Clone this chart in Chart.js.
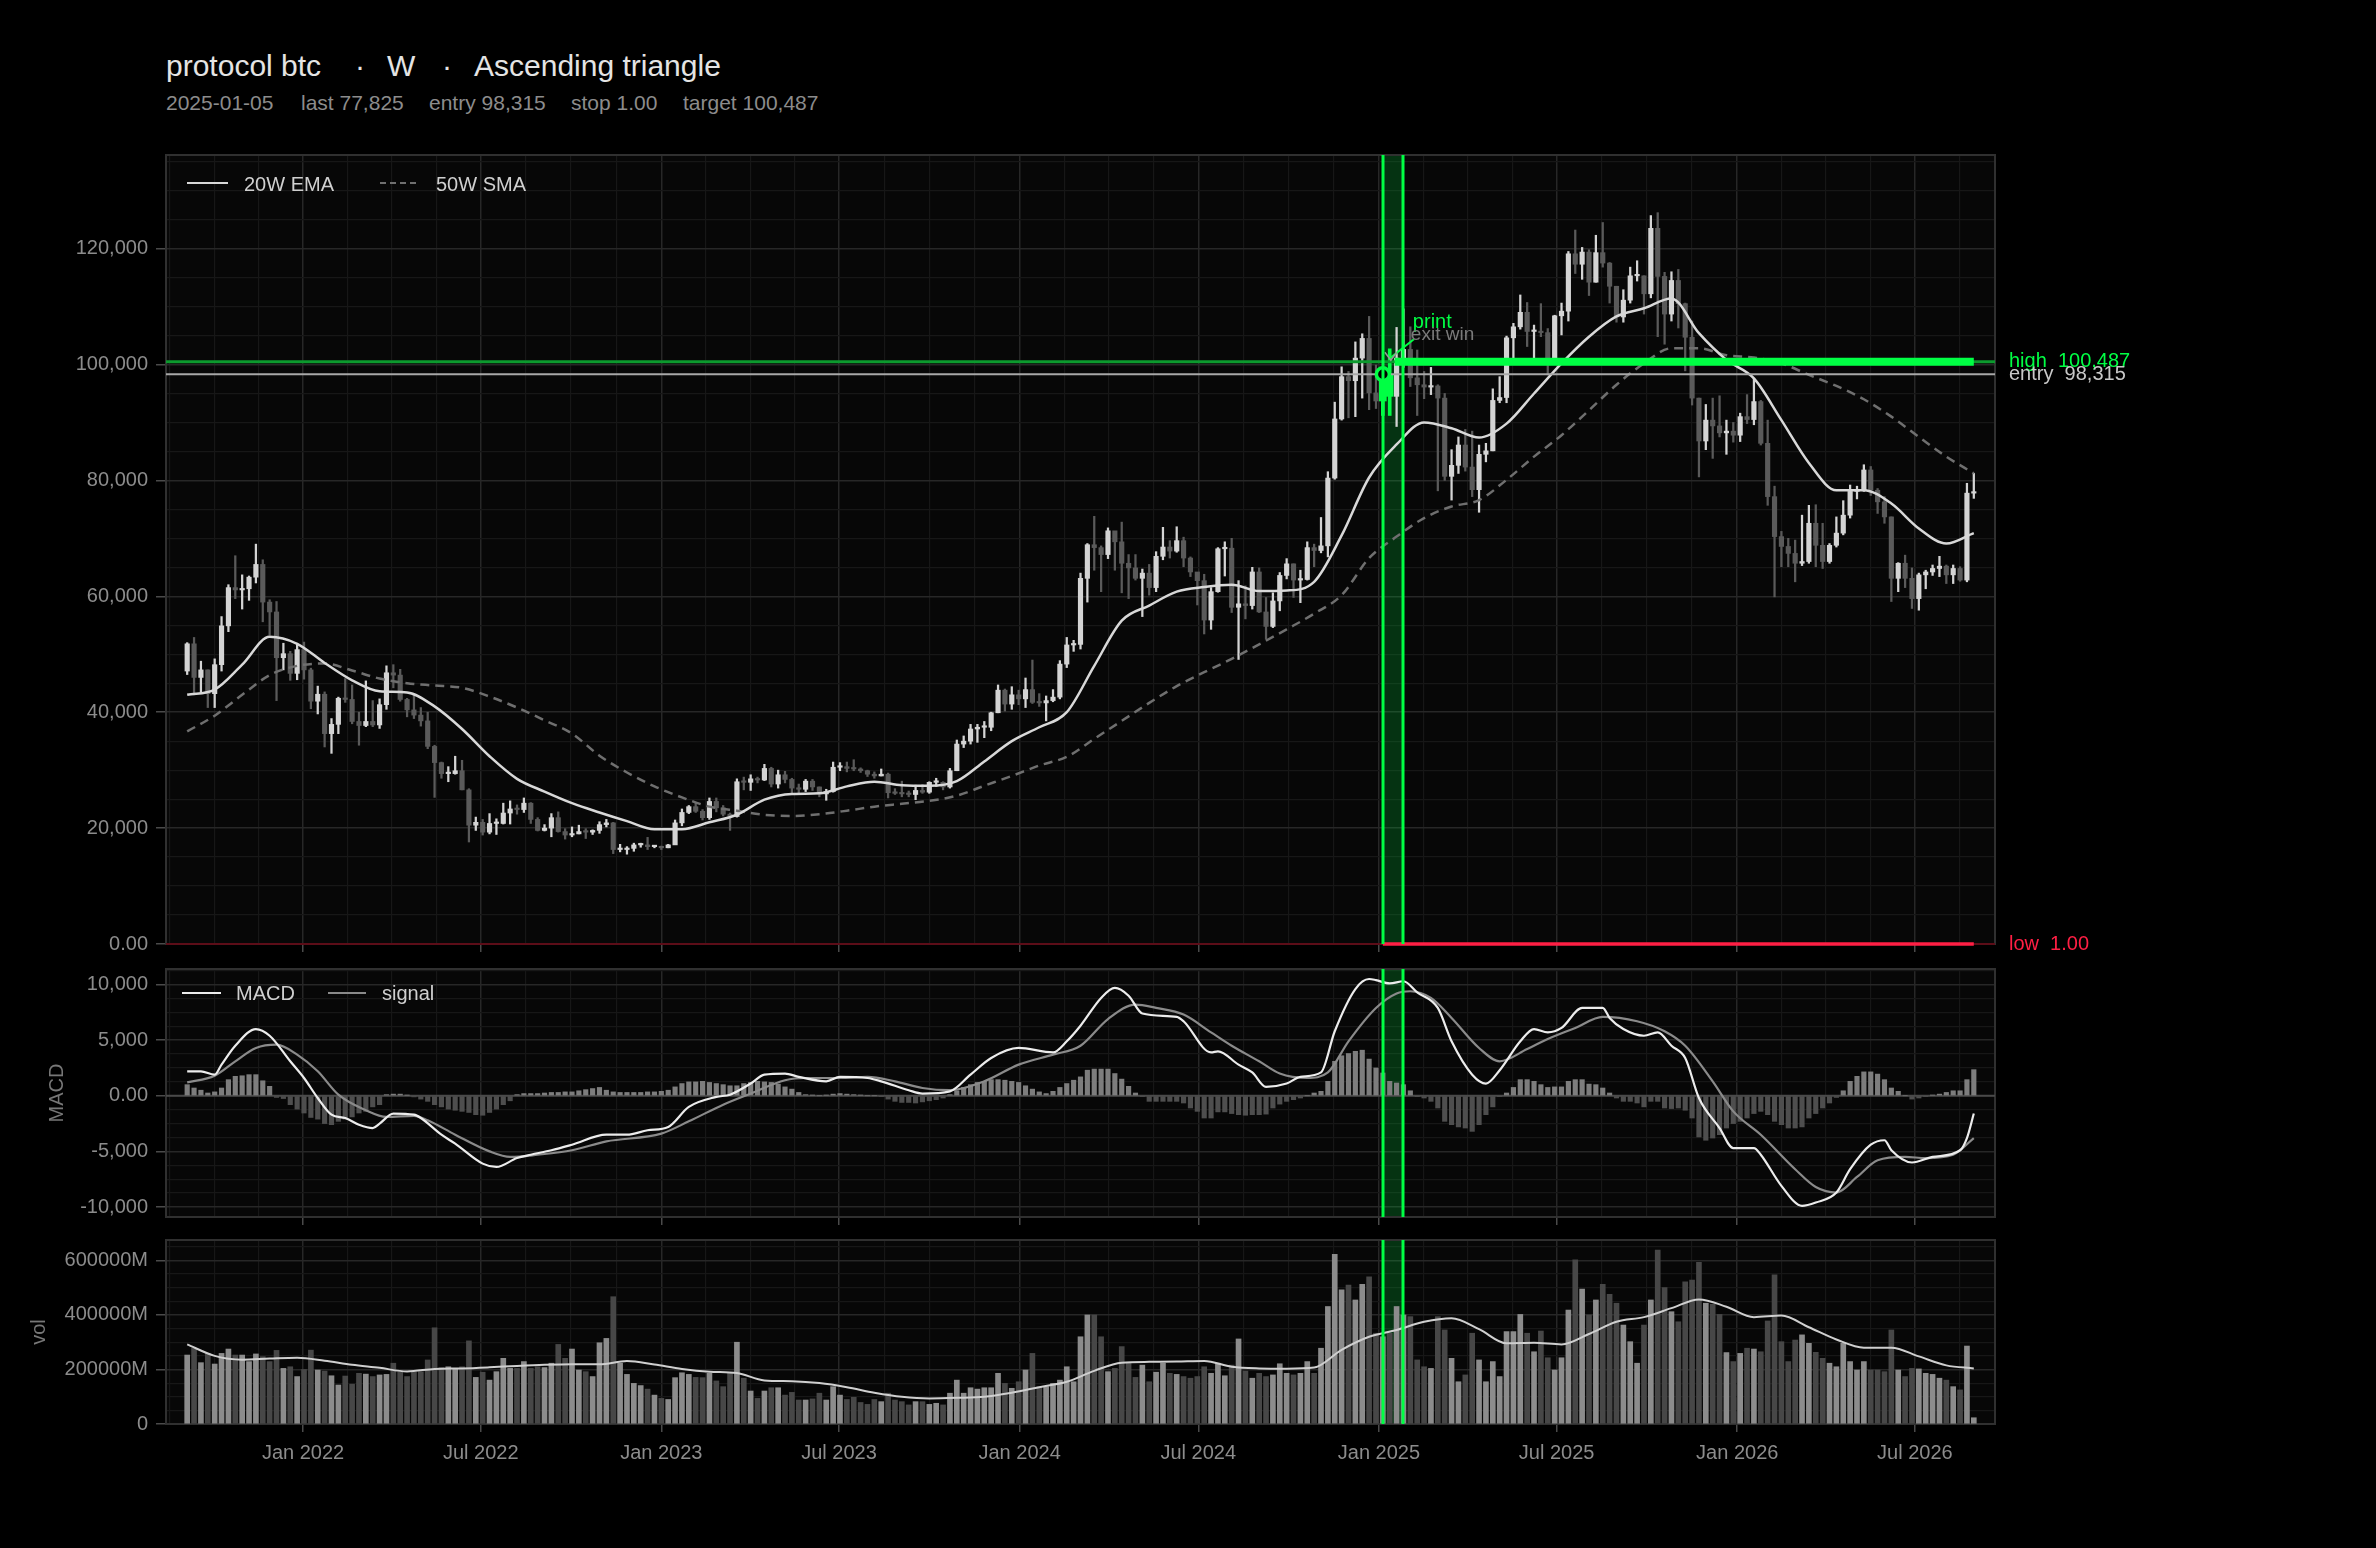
<!DOCTYPE html>
<html>
<head>
<meta charset="utf-8">
<title>protocol btc · W · Ascending triangle</title>
<script src="https://cdn.jsdelivr.net/npm/chart.js@4.4.1/dist/chart.umd.min.js"></script>
<style>
  html, body { margin: 0; padding: 0; background: #000; }
  body { width: 2376px; height: 1548px; position: relative; overflow: hidden;
         font-family: "Liberation Sans", Arial, Helvetica, sans-serif; }
  .t { position: absolute; white-space: pre; }
  .title { top: 51px; font-size: 30px; line-height: 30px; color: #e4e4e4; }
  .sub { top: 92px; font-size: 21px; line-height: 21px; color: #8c8c8c; }
  .lg { font-size: 20px; line-height: 20px; color: #cfcfcf; }
  .sw { position: absolute; height: 0; }
  canvas { position: absolute; left: 0; }
</style>
</head>
<body>
<div class="t title" style="left:166px">protocol btc</div>
<div class="t title" style="left:355px">·</div>
<div class="t title" style="left:387px">W</div>
<div class="t title" style="left:442px">·</div>
<div class="t title" style="left:474px">Ascending triangle</div>

<div class="t sub" style="left:166px">2025-01-05</div>
<div class="t sub" style="left:301px">last 77,825</div>
<div class="t sub" style="left:429px">entry 98,315</div>
<div class="t sub" style="left:571px">stop 1.00</div>
<div class="t sub" style="left:683px">target 100,487</div>

<canvas id="main" width="2376" height="850" style="top:120px"></canvas>
<canvas id="macd" width="2376" height="298" style="top:945px"></canvas>
<canvas id="vol" width="2376" height="332" style="top:1216px"></canvas>

<!-- legends -->
<div class="sw" style="left:187px;top:182px;width:41px;border-top:2.5px solid #d8d8d8"></div>
<div class="t lg" style="left:244px;top:174px">20W EMA</div>
<div class="sw" style="left:380px;top:182px;width:36px;border-top:2.5px dashed #6f6f6f"></div>
<div class="t lg" style="left:436px;top:174px">50W SMA</div>

<div class="sw" style="left:182px;top:992px;width:39px;border-top:2.5px solid #ececec"></div>
<div class="t lg" style="left:236px;top:983px">MACD</div>
<div class="sw" style="left:328px;top:992px;width:38px;border-top:2.5px solid #8a8a8a"></div>
<div class="t lg" style="left:382px;top:983px">signal</div>

<script>
// weekly candles, labelled by the Sunday that closes the week; prices in $k
const firstWeek = '2021-09-05';

const open = [
  47.1, 51.8, 46.0, 47.3, 43.2, 48.2, 54.9, 61.5, 61.1, 61.3,
  63.3, 65.5, 59.0, 57.3, 49.4, 50.1, 46.7, 50.8, 47.3, 41.9,
  43.1, 36.3, 37.9, 42.4, 42.2, 38.4, 37.7, 38.4, 37.8, 41.3,
  46.8, 46.4, 42.2, 40.4, 39.5, 38.5, 34.1, 31.3, 29.4, 29.4,
  29.9, 26.6, 20.5, 21.0, 19.3, 20.8, 20.8, 22.6, 23.3, 23.2,
  24.3, 21.5, 19.6, 20.0, 21.8, 19.4, 18.8, 19.0, 19.4, 19.3,
  19.6, 20.6, 20.9, 16.3, 16.3, 16.5, 17.1, 17.1, 16.8, 16.8,
  16.6, 17.1, 20.9, 22.7, 23.7, 22.9, 21.8, 24.6, 23.5, 22.4,
  22.0, 28.0, 27.9, 28.5, 28.3, 30.3, 27.6, 29.2, 28.4, 26.9,
  26.7, 28.1, 27.1, 25.9, 26.3, 30.5, 30.6, 30.3, 30.2, 29.9,
  29.3, 29.0, 29.3, 26.1, 26.0, 25.9, 25.8, 26.5, 26.2, 27.9,
  27.9, 27.1, 29.9, 34.5, 35.0, 37.1, 37.4, 37.4, 39.9, 43.8,
  41.4, 43.0, 42.3, 43.9, 41.7, 41.6, 42.0, 42.6, 48.3, 51.6,
  51.7, 63.1, 68.9, 68.4, 67.2, 71.3, 69.4, 65.7, 64.9, 63.1,
  64.0, 61.5, 66.9, 68.5, 67.8, 69.6, 66.6, 64.2, 62.7, 55.9,
  60.8, 68.2, 68.3, 58.1, 58.7, 58.4, 64.2, 57.3, 54.8, 59.2,
  63.6, 65.6, 62.8, 62.9, 68.4, 67.9, 68.7, 80.4, 90.6, 97.9,
  97.2, 101.1, 104.5, 95.1, 93.7, 98.3, 94.5, 101.1, 102.6, 97.7,
  96.5, 96.1, 96.3, 94.2, 80.7, 82.6, 86.1, 82.3, 78.4, 84.5,
  85.1, 93.8, 94.3, 104.6, 106.5, 109.0, 105.7, 105.7, 105.5, 101.0,
  108.4, 109.2, 119.1, 117.3, 119.4, 114.2, 119.3, 117.5, 113.5, 108.2,
  111.1, 115.3, 115.3, 112.2, 123.5, 115.2, 108.7, 114.5, 110.5, 104.7,
  94.2, 86.8, 90.4, 89.4, 88.2, 88.5, 87.8, 91.0, 90.5, 93.6,
  86.4, 77.2, 70.3, 68.6, 67.4, 65.7, 66.0, 72.6, 68.8, 66.0,
  68.8, 70.9, 74.0, 78.1, 78.3, 81.8, 78.3, 76.3, 73.7, 63.1,
  65.7, 63.1, 59.6, 63.7, 64.2, 64.8, 65.2, 63.7, 64.8, 62.8,
  77.8
];
const high = [
  52.0, 52.9, 48.8, 47.3, 49.2, 56.5, 62.0, 67.0, 63.7, 63.5,
  69.0, 66.3, 59.4, 59.1, 51.9, 50.5, 51.9, 52.1, 47.6, 44.5,
  43.5, 38.9, 42.6, 45.8, 44.7, 40.0, 45.4, 42.0, 42.3, 48.0,
  48.2, 47.4, 42.4, 42.9, 40.8, 40.0, 34.3, 31.4, 30.6, 32.4,
  31.7, 26.8, 21.9, 21.5, 22.5, 21.6, 24.3, 24.7, 24.0, 25.2,
  24.4, 21.8, 20.6, 22.5, 22.8, 19.9, 20.2, 20.5, 19.9, 19.7,
  21.1, 21.5, 21.0, 17.2, 16.8, 17.4, 17.4, 18.4, 17.0, 16.9,
  17.2, 21.4, 23.3, 23.9, 24.3, 23.2, 25.2, 25.2, 23.9, 22.6,
  28.5, 28.8, 29.2, 28.8, 31.0, 30.5, 30.0, 29.8, 28.6, 27.6,
  28.4, 28.4, 27.1, 26.7, 31.4, 31.3, 31.4, 31.8, 30.4, 30.0,
  29.7, 30.2, 29.5, 26.8, 28.1, 26.4, 27.4, 27.5, 28.0, 28.6,
  28.0, 30.3, 35.2, 35.9, 37.9, 37.9, 38.4, 40.0, 44.7, 44.0,
  44.4, 43.8, 45.9, 49.0, 43.2, 42.8, 43.9, 48.9, 52.9, 52.4,
  64.0, 69.1, 73.8, 68.7, 71.8, 71.2, 72.8, 67.2, 67.2, 64.7,
  65.5, 67.7, 71.9, 69.6, 72.0, 70.2, 66.8, 64.0, 63.8, 61.5,
  68.4, 69.4, 70.0, 62.7, 61.8, 65.0, 64.9, 59.8, 60.6, 64.1,
  66.5, 65.6, 64.5, 69.4, 69.0, 73.6, 81.5, 93.5, 99.6, 98.8,
  103.9, 105.3, 108.3, 99.9, 98.9, 102.7, 106.4, 109.6, 106.5, 102.5,
  98.8, 99.5, 96.5, 95.0, 85.3, 87.5, 88.8, 88.5, 86.1, 86.4,
  95.8, 97.9, 104.9, 107.1, 112.0, 110.7, 106.8, 110.5, 106.2, 108.5,
  110.6, 119.5, 123.2, 120.2, 119.8, 122.3, 124.5, 117.6, 113.5, 112.9,
  116.8, 117.9, 115.3, 125.7, 126.2, 115.9, 116.0, 116.4, 110.6, 107.5,
  94.2, 93.1, 94.2, 94.6, 90.4, 90.0, 91.6, 94.8, 97.6, 93.8,
  90.4, 79.0, 71.2, 70.0, 69.7, 74.0, 75.7, 75.8, 72.6, 69.1,
  73.7, 76.5, 79.2, 79.0, 82.7, 82.4, 78.6, 77.2, 73.7, 65.8,
  67.1, 64.9, 64.0, 64.5, 65.4, 66.9, 65.4, 65.4, 65.1, 79.5,
  81.2
];
const low = [
  46.5, 43.0, 43.4, 40.8, 40.8, 47.1, 53.9, 59.6, 57.8, 59.3,
  62.3, 55.6, 53.3, 42.0, 47.3, 45.5, 45.6, 45.7, 40.6, 39.7,
  34.0, 32.9, 36.3, 41.7, 38.0, 34.3, 37.5, 37.5, 37.2, 40.5,
  44.2, 41.9, 39.2, 38.9, 37.6, 33.7, 25.3, 28.6, 28.0, 29.3,
  26.6, 17.6, 19.6, 18.8, 19.0, 18.9, 20.7, 20.7, 22.4, 22.7,
  20.8, 19.5, 19.5, 18.5, 19.3, 18.1, 18.5, 19.0, 18.2, 18.9,
  19.1, 20.2, 15.6, 15.9, 15.5, 16.0, 16.7, 16.3, 16.6, 16.3,
  16.6, 17.2, 20.4, 22.5, 22.7, 21.4, 21.5, 22.8, 22.1, 19.6,
  21.9, 26.6, 26.5, 27.8, 28.2, 27.1, 26.9, 27.8, 25.8, 26.1,
  26.3, 26.5, 25.4, 24.8, 26.2, 29.9, 29.7, 29.9, 29.6, 28.9,
  28.6, 29.0, 25.2, 25.8, 25.4, 25.4, 24.9, 26.0, 26.0, 27.2,
  26.6, 26.9, 29.9, 33.9, 34.5, 34.8, 35.6, 36.8, 39.9, 40.2,
  40.5, 41.3, 40.8, 41.5, 41.0, 38.5, 41.8, 42.3, 47.7, 50.5,
  50.9, 59.0, 64.5, 60.8, 66.5, 64.5, 60.6, 59.6, 62.8, 56.5,
  60.2, 60.8, 66.3, 66.6, 67.6, 65.1, 63.4, 58.5, 53.5, 54.3,
  60.7, 63.5, 57.2, 49.1, 56.1, 57.8, 57.2, 52.6, 54.6, 57.5,
  63.0, 59.8, 58.9, 62.8, 65.1, 67.5, 66.8, 80.2, 90.4, 90.8,
  91.0, 94.2, 92.2, 92.4, 91.2, 91.2, 89.3, 99.5, 96.2, 91.2,
  94.1, 94.8, 78.2, 80.0, 76.6, 81.2, 81.6, 77.2, 74.5, 83.2,
  85.1, 93.4, 93.4, 100.7, 106.1, 103.1, 100.4, 104.8, 98.2, 100.3,
  105.1, 107.5, 115.7, 114.7, 111.9, 114.2, 116.8, 110.6, 107.3, 107.3,
  110.6, 114.4, 108.7, 111.5, 104.8, 103.5, 107.5, 106.3, 98.9, 93.0,
  80.6, 85.3, 83.8, 87.5, 84.5, 86.6, 86.7, 89.8, 89.6, 86.1,
  75.7, 59.9, 65.1, 65.1, 62.5, 65.3, 65.7, 65.1, 64.8, 65.7,
  68.5, 70.6, 73.5, 76.8, 78.1, 77.4, 74.3, 72.6, 59.1, 60.8,
  61.5, 57.9, 57.6, 61.3, 63.6, 63.4, 62.2, 62.2, 62.6, 62.5,
  76.9
];
const close = [
  51.8, 46.0, 47.3, 43.2, 48.2, 54.9, 61.5, 61.1, 61.3, 63.3,
  65.5, 59.0, 57.3, 49.4, 50.1, 46.7, 50.8, 47.3, 41.9, 43.1,
  36.3, 37.9, 42.4, 42.2, 38.4, 37.7, 38.4, 37.8, 41.3, 46.8,
  46.4, 42.2, 40.4, 39.5, 38.5, 34.1, 31.3, 29.4, 29.4, 29.9,
  26.6, 20.5, 21.0, 19.3, 20.8, 20.8, 22.6, 23.3, 23.2, 24.3,
  21.5, 19.6, 20.0, 21.8, 19.4, 18.8, 19.0, 19.4, 19.3, 19.6,
  20.6, 20.9, 16.3, 16.3, 16.5, 17.1, 17.1, 16.8, 16.8, 16.6,
  17.1, 20.9, 22.7, 23.7, 22.9, 21.8, 24.6, 23.5, 22.4, 22.0,
  28.0, 27.9, 28.5, 28.3, 30.3, 27.6, 29.2, 28.4, 26.9, 26.7,
  28.1, 27.1, 25.9, 26.3, 30.5, 30.6, 30.3, 30.2, 29.9, 29.3,
  29.0, 29.3, 26.1, 26.0, 25.9, 25.8, 26.5, 26.2, 27.9, 27.9,
  27.1, 29.9, 34.5, 35.0, 37.1, 37.4, 37.4, 39.9, 43.8, 41.4,
  43.0, 42.3, 43.9, 41.7, 41.6, 42.0, 42.6, 48.3, 51.6, 51.7,
  63.1, 68.9, 68.4, 67.2, 71.3, 69.4, 65.7, 64.9, 63.1, 64.0,
  61.5, 66.9, 68.5, 67.8, 69.6, 66.6, 64.2, 62.7, 55.9, 60.8,
  68.2, 68.3, 58.1, 58.7, 58.4, 64.2, 57.3, 54.8, 59.2, 63.6,
  65.6, 62.8, 62.9, 68.4, 67.9, 68.7, 80.4, 90.6, 97.9, 97.2,
  101.1, 104.5, 95.1, 93.7, 98.3, 94.5, 101.1, 102.6, 97.7, 96.5,
  96.1, 96.3, 94.2, 80.7, 82.6, 86.1, 82.3, 78.4, 84.5, 85.1,
  93.8, 94.3, 104.6, 106.5, 109.0, 105.7, 105.7, 105.5, 101.0, 108.4,
  109.2, 119.1, 117.3, 119.4, 114.2, 119.3, 117.5, 113.5, 108.2, 111.1,
  115.3, 115.3, 112.2, 123.5, 115.2, 108.7, 114.5, 110.5, 104.7, 94.2,
  86.8, 90.4, 89.4, 88.2, 88.5, 87.8, 91.0, 90.5, 93.6, 86.4,
  77.2, 70.3, 68.6, 67.4, 65.7, 66.0, 72.6, 68.8, 66.0, 68.8,
  70.9, 74.0, 78.1, 78.3, 81.8, 78.3, 76.3, 73.7, 63.1, 65.7,
  63.1, 59.6, 63.7, 64.2, 64.8, 65.2, 63.7, 64.8, 62.8, 77.8,
  77.825
];

// weekly volume in $bn (axis shows it as millions)
const volume = [
  253, 278, 225, 259, 220, 259, 275, 253, 253, 229,
  257, 247, 229, 270, 204, 210, 174, 200, 271, 198,
  194, 177, 143, 176, 146, 186, 183, 174, 180, 182,
  223, 190, 174, 190, 192, 235, 353, 207, 210, 204,
  210, 305, 171, 190, 161, 192, 241, 204, 204, 229,
  204, 210, 207, 223, 292, 241, 275, 198, 192, 174,
  298, 314, 467, 223, 182, 149, 141, 128, 106, 94,
  90, 170, 188, 182, 171, 170, 186, 158, 137, 186,
  300, 168, 121, 94, 121, 133, 133, 106, 116, 88,
  88, 92, 113, 88, 137, 106, 90, 98, 79, 72,
  90, 82, 113, 88, 82, 70, 82, 82, 72, 76,
  70, 113, 161, 113, 133, 128, 133, 133, 186, 149,
  131, 155, 198, 259, 137, 137, 149, 161, 210, 155,
  320, 400, 400, 320, 192, 204, 284, 223, 171, 216,
  155, 190, 223, 186, 182, 174, 168, 174, 210, 186,
  223, 177, 216, 312, 194, 168, 186, 174, 180, 221,
  186, 180, 186, 229, 186, 278, 431, 622, 492, 510,
  455, 512, 540, 333, 320, 333, 431, 400, 394, 235,
  210, 204, 394, 345, 241, 155, 180, 333, 235, 155,
  229, 174, 339, 339, 402, 333, 265, 341, 243, 198,
  243, 418, 602, 495, 400, 455, 512, 476, 443, 363,
  302, 223, 363, 455, 638, 500, 412, 375, 522, 528,
  593, 443, 439, 402, 262, 229, 259, 278, 275, 265,
  378, 547, 302, 229, 308, 327, 296, 263, 241, 223,
  210, 296, 229, 198, 229, 198, 198, 192, 345, 198,
  174, 204, 202, 186, 182, 168, 161, 137, 125, 286,
  23
];

// MACD histogram per week, in $k
const macdHist = [
  1.0, 0.7, 0.5, 0.25, 0.35, 0.7, 1.45, 1.75, 1.8, 1.9,
  1.9, 1.35, 0.85, -0.15, -0.25, -0.8, -1.2, -1.55, -1.95, -2.1,
  -2.5, -2.6, -2.3, -2.1, -1.9, -1.55, -1.4, -1.0, -0.8, 0.1,
  0.15, 0.15, 0.05, -0.1, -0.3, -0.5, -0.8, -1.0, -1.2, -1.3,
  -1.4, -1.5, -1.7, -1.75, -1.5, -1.2, -0.8, -0.45, 0.1, 0.2,
  0.2, 0.2, 0.25, 0.3, 0.3, 0.35, 0.35, 0.45, 0.55, 0.65,
  0.75, 0.5, 0.35, 0.3, 0.3, 0.3, 0.3, 0.35, 0.35, 0.4,
  0.5, 0.8, 1.1, 1.25, 1.25, 1.3, 1.2, 1.1, 1.0, 0.9,
  0.9, 1.1, 1.2, 1.3, 1.25, 1.2, 1.05, 0.8, 0.6, 0.3,
  0.1, 0.05, 0.0, 0.05, 0.15, 0.2, 0.15, 0.1, 0.05, 0.0,
  0.0, -0.05, -0.3, -0.5, -0.6, -0.6, -0.65, -0.55, -0.45, -0.35,
  -0.2, 0.1, 0.45, 0.75, 1.0, 1.2, 1.3, 1.45, 1.45, 1.4,
  1.3, 1.2, 0.9, 0.6, 0.35, 0.2, 0.4, 0.75, 1.1, 1.4,
  1.7, 2.3, 2.4, 2.4, 2.4, 2.0, 1.5, 0.85, 0.25, -0.05,
  -0.5, -0.5, -0.5, -0.5, -0.5, -0.65, -1.1, -1.4, -2.0, -2.0,
  -1.45, -1.45, -1.6, -1.7, -1.75, -1.7, -1.7, -1.65, -1.1, -0.75,
  -0.5, -0.35, -0.2, 0.0, 0.25, 0.4, 1.3, 3.1, 3.6, 3.8,
  4.0, 4.1, 3.3, 2.5, 2.05, 1.3, 1.15, 1.0, 0.45, -0.05,
  -0.2, -0.5, -1.1, -2.3, -2.6, -2.8, -2.9, -3.2, -2.6, -1.7,
  -1.0, -0.05, 0.25, 0.75, 1.45, 1.45, 1.3, 1.0, 0.75, 0.8,
  0.8, 1.3, 1.45, 1.45, 1.05, 1.0, 0.7, 0.25, -0.2, -0.5,
  -0.5, -0.65, -1.0, -0.5, -0.5, -1.1, -1.15, -1.1, -1.3, -2.0,
  -3.7, -4.0, -3.8, -3.5, -2.9, -2.5, -2.3, -2.0, -1.6, -1.4,
  -1.7, -2.3, -2.6, -2.9, -2.9, -2.8, -2.0, -1.6, -1.1, -0.65,
  -0.15, 0.45, 1.3, 1.75, 2.15, 2.15, 1.95, 1.45, 0.7, 0.4,
  0.0, -0.3, -0.2, -0.05, 0.05, 0.15, 0.3, 0.45, 0.45, 1.45,
  2.35
];

// MACD and signal lines read at these week numbers, in $k
const macdWeek = [0, 2, 4, 5, 7, 10, 12, 15, 17, 19, 21, 23, 25, 27, 28, 30, 33, 34, 37, 39,
  43, 45, 48, 50, 53, 56, 61, 64, 67, 70, 73, 77, 79, 82, 84, 87, 89, 93, 95, 99,
  101, 105, 107, 111, 114, 117, 121, 126, 128, 130, 133, 135, 137, 139, 144, 145, 149, 150, 153, 155,
  157, 160, 162, 165, 167, 170, 172, 173, 175, 177, 179, 182, 184, 187, 189, 191, 194, 196, 198, 200,
  203, 206, 207, 209, 212, 214, 216, 218, 220, 223, 225, 228, 229, 232, 235, 237, 240, 242, 245, 247,
  248, 251, 254, 258, 259, 260];
const macdLine = [2.2, 2.2, 1.9, 2.8, 4.5, 6.0, 5.4, 3.1, 1.6, -0.2, -1.7, -2.0, -2.6, -2.9, -2.5, -1.6, -1.7, -2.0, -3.5, -4.3,
  -6.1, -6.4, -5.6, -5.3, -4.9, -4.4, -3.5, -3.5, -3.1, -2.8, -1.0, -0.1, 0.1, 1.1, 1.9, 2.0, 1.7, 1.3, 1.7, 1.6,
  1.3, 0.5, 0.2, 0.4, 1.9, 3.4, 4.3, 3.9, 4.9, 6.3, 8.8, 9.7, 9.0, 7.4, 7.1, 6.7, 3.9, 4.0, 2.8, 2.1,
  0.8, 1.1, 1.7, 2.1, 5.8, 9.6, 10.5, 10.4, 10.1, 10.3, 9.3, 7.9, 4.9, 1.9, 1.1, 2.3, 4.9, 6.0, 5.7, 6.1,
  7.9, 7.9, 7.0, 6.0, 5.4, 5.7, 4.5, 3.4, -0.2, -2.9, -4.7, -4.7, -5.3, -8.1, -9.9, -9.6, -8.7, -6.6, -4.4, -4.0,
  -4.9, -6.0, -5.5, -4.9, -3.8, -1.6];
const signalWeek = [0, 4, 7, 10, 13, 16, 19, 22, 26, 29, 33, 35, 39, 44, 47, 51, 56, 61, 69, 73,
  78, 82, 87, 90, 95, 99, 103, 107, 111, 116, 121, 126, 130, 134, 138, 141, 145, 149, 152, 156,
  159, 163, 166, 169, 173, 176, 178, 181, 184, 188, 191, 195, 198, 202, 206, 211, 215, 218, 222, 225,
  229, 234, 237, 240, 243, 246, 250, 253, 257, 260];
const signalLine = [1.2, 1.8, 3.1, 4.3, 4.6, 3.7, 2.2, 0.1, -1.3, -1.9, -1.8, -2.2, -3.5, -5.0, -5.5, -5.3, -4.9, -4.1, -3.4, -2.3,
  -0.8, 0.2, 1.4, 1.6, 1.6, 1.7, 1.3, 0.7, 0.5, 1.3, 2.8, 3.7, 4.5, 6.9, 8.2, 7.9, 7.3, 5.7, 4.5, 3.1,
  2.0, 1.6, 2.1, 4.9, 7.9, 9.2, 9.4, 8.8, 7.0, 4.3, 3.1, 4.2, 5.1, 6.1, 7.1, 6.7, 5.8, 4.5, 1.3, -1.4,
  -3.5, -6.6, -8.2, -8.7, -7.3, -5.8, -5.5, -5.6, -5.3, -3.8];

// moving averages read every 4th week
const avgWeek = [0, 4, 8, 12, 16, 20, 24, 28, 32, 36, 40, 44, 48, 52, 56, 60, 64, 68, 72, 76,
  80, 84, 88, 92, 96, 100, 104, 108, 112, 116, 120, 124, 128, 132, 136, 140, 144, 148, 152, 156,
  160, 164, 168, 172, 176, 180, 184, 188, 192, 196, 200, 204, 208, 212, 216, 220, 224, 228, 232, 236,
  240, 244, 248, 252, 256, 260];
const ema20 = [43.0, 43.9, 48.2, 53.0, 51.8, 48.5, 45.5, 43.6, 43.4, 41.0, 37.1, 32.4, 28.5, 26.3, 24.3, 22.7, 21.2, 19.8, 19.8, 21.0,
  22.3, 24.9, 25.9, 26.0, 27.2, 28.0, 27.4, 27.3, 28.1, 31.5, 35.0, 37.4, 40.0, 48.0, 55.8, 58.4, 60.8, 61.6, 62.0, 60.9,
  61.0, 62.5, 70.5, 80.5, 86.2, 90.0, 89.0, 87.4, 89.8, 95.0, 100.2, 104.8, 108.3, 109.7, 111.4, 105.4, 100.8, 97.6, 90.4, 83.0,
  78.3, 78.3, 76.0, 71.7, 69.1, 70.9];
const sma50 = [36.7, 39.4, 43.0, 46.4, 48.0, 48.4, 47.2, 45.8, 45.0, 44.6, 44.2, 42.7, 40.8, 38.6, 36.3, 32.5, 29.6, 27.2, 25.3, 23.7,
  23.0, 22.3, 22.1, 22.4, 23.0, 23.7, 24.2, 24.7, 25.6, 27.3, 29.0, 30.8, 32.3, 35.4, 38.5, 41.6, 44.5, 46.9, 49.2, 51.7,
  54.3, 57.0, 60.2, 66.6, 70.3, 73.5, 75.5, 76.6, 80.1, 84.1, 87.8, 92.1, 96.5, 100.2, 102.8, 102.8, 101.6, 101.2, 100.2, 98.2,
  96.3, 94.0, 91.0, 87.5, 84.1, 81.2];
const volAvg = [292, 250, 236, 240, 243, 232, 217, 206, 193, 202, 204, 208, 213, 217, 219, 219, 231, 218, 202, 192,
  187, 160, 157, 150, 135, 115, 100, 94, 96, 100, 115, 135, 155, 195, 225, 228, 229, 231, 210, 204,
  203, 207, 272, 320, 345, 375, 388, 348, 296, 298, 292, 330, 375, 392, 425, 457, 430, 392, 398, 355,
  310, 280, 280, 248, 215, 204];

// trade setup
const signalDate = '2025-01-05';
const windowEnd = '2025-01-26';
const targetFrom = '2025-01-17';
const signalWeeks = ['2025-01-05', '2025-01-12'];
const entry = 98315, target = 100487, stop = 1.00;

// x axis
const xFrom = '2021-08-14T10:00:00Z', xTo = '2026-09-20T14:00:00Z';
const majorDates = ['2022-01-01', '2022-07-01', '2023-01-01', '2023-07-01', '2024-01-01',
  '2024-07-01', '2025-01-01', '2025-07-01', '2026-01-01', '2026-07-01'];
const majorLabels = ['Jan 2022', 'Jul 2022', 'Jan 2023', 'Jul 2023', 'Jan 2024',
  'Jul 2024', 'Jan 2025', 'Jul 2025', 'Jan 2026', 'Jul 2026'];

// ---------------------------------------------------------------
const DAY = 864e5;
const ms = s => Date.parse(s.length === 10 ? s + 'T00:00:00Z' : s);
const t0 = ms(firstWeek);
const weekX = k => t0 + k * 7 * DAY;
const X0 = ms(xFrom), X1 = ms(xTo);
const lastWeek = close.length - 1;
const hiIdx = signalWeeks.map(d => Math.round((ms(d) - t0) / (7 * DAY)));
const K = close.map((_, k) => k);
const isUp = k => close[k] >= open[k];

Chart.defaults.font.family = '"Liberation Sans", Arial, Helvetica, sans-serif';
Chart.defaults.font.size = 20;

// major ticks on Jan/Jul, three minor ticks in between
const majors = majorDates.map(ms);
const xTickList = [];
majors.forEach((m, i) => {
  xTickList.push({ value: m, mj: true, lbl: majorLabels[i] });
  const next = i < majors.length - 1 ? majors[i + 1] : m + (m - majors[i - 1]);
  const step = (next - m) / 4;
  for (let j = 1; j < 4; j++) xTickList.push({ value: m + j * step, mj: false, lbl: '' });
  if (i === 0) for (let j = 1; j < 4; j++) xTickList.push({ value: m - j * (majors[1] - m) / 4, mj: false, lbl: '' });
});
const xTicksIn = xTickList.filter(t => t.value >= X0 && t.value <= X1).sort((a, b) => a.value - b.value);

const gridOpts = len => ({
  offset: false,
  color: c => (c.tick && c.tick.mj) ? '#272727' : '#171717',
  lineWidth: c => (c.tick && c.tick.mj) ? 1.5 : 1.2,
  tickLength: len,
  tickWidth: 1.5,
  tickColor: c => (c.tick && c.tick.mj) ? '#4a4a4a' : 'rgba(0,0,0,0)'
});

function xScale(showLabels, h) {
  return {
    type: 'linear', min: X0, max: X1, offset: false, bounds: 'data',
    afterBuildTicks: s => { s.ticks = xTicksIn.map(t => ({ value: t.value, mj: t.mj, lbl: t.lbl })); },
    afterFit: s => { s.height = h; },
    ticks: { display: showLabels, autoSkip: false, maxRotation: 0, padding: 9, color: '#8c8c8c',
             callback: (v, i, t) => t[i].mj ? t[i].lbl : '' },
    grid: gridOpts(8),
    border: { display: false }
  };
}

function yScale(min, max, step, major, fmt, title, titlePad) {
  const list = [];
  for (let v = Math.ceil(min / step) * step; v <= max; v += step) list.push({ value: v, mj: v % major === 0 });
  const s = {
    type: 'linear', position: 'left', min, max, bounds: 'data',
    afterBuildTicks: sc => { sc.ticks = list.map(t => ({ value: t.value, mj: t.mj })); },
    afterFit: sc => { sc.width = 166; },
    ticks: { autoSkip: false, padding: 8, color: '#8c8c8c', callback: (v, i, t) => t[i].mj ? fmt(v) : '' },
    grid: gridOpts(10),
    border: { display: false }
  };
  if (title) s.title = { display: true, text: title, color: '#777', font: { size: 20 }, padding: { top: titlePad, bottom: 0 } };
  return s;
}

const nf = new Intl.NumberFormat('en-US');
const fmtPrice = v => v === 0 ? '0.00' : nf.format(v);
const fmtVol = v => v === 0 ? '0' : (v * 1000) + 'M';

// dark panel, frame and the signal window band shared by all three panels
function panelPlugin(extraBefore, extraAfter) {
  return {
    id: 'panel',
    beforeDraw(c) {
      const a = c.chartArea, g = c.ctx;
      g.save(); g.fillStyle = '#070707'; g.fillRect(a.left, a.top, a.width, a.height); g.restore();
    },
    beforeDatasetsDraw(c) {
      const a = c.chartArea, g = c.ctx, x = c.scales.x;
      const x1 = x.getPixelForValue(ms(signalDate)), x2 = x.getPixelForValue(ms(windowEnd));
      g.save();
      g.fillStyle = 'rgba(0, 210, 60, 0.22)';
      g.fillRect(x1, a.top, x2 - x1, a.height);
      g.strokeStyle = '#303030'; g.lineWidth = 2;
      g.strokeRect(a.left, a.top, a.width, a.height);
      if (extraBefore) extraBefore(c, g);
      g.restore();
    },
    afterDatasetsDraw(c) {
      const a = c.chartArea, g = c.ctx, x = c.scales.x;
      g.save();
      if (extraAfter) extraAfter(c, g);
      g.strokeStyle = '#00ff44'; g.lineWidth = 3;
      [signalDate, windowEnd].forEach(d => {
        const px = Math.round(x.getPixelForValue(ms(d)));
        g.beginPath(); g.moveTo(px, a.top); g.lineTo(px, a.bottom); g.stroke();
      });
      g.restore();
    }
  };
}

function hline(g, y, x1, x2, color, w) {
  g.strokeStyle = color; g.lineWidth = w;
  g.beginPath(); g.moveTo(x1, y); g.lineTo(x2, y); g.stroke();
}

// trade levels and labels on the price panel
function tradeMarks(c, g) {
  const a = c.chartArea, x = c.scales.x, y = c.scales.y;
  const xs = x.getPixelForValue(ms(signalDate));
  const xe = x.getPixelForValue(weekX(lastWeek));
  const ye = y.getPixelForValue(entry), yt = y.getPixelForValue(target), ys = y.getPixelForValue(stop);
  hline(g, ye, a.left, a.right, '#a8a8a8', 2);
  hline(g, yt, a.left, a.right, '#0c9a2e', 3);
  hline(g, yt, x.getPixelForValue(ms(targetFrom)), xe, '#00ff44', 8);
  hline(g, ys, a.left, a.right, '#5c0d18', 2);
  hline(g, ys, xs, xe, '#ff1f44', 3.5);

  // arrow from the labels down to the entry point
  g.strokeStyle = '#00ff44'; g.lineWidth = 2;
  g.beginPath(); g.moveTo(xs + 31, ye - 35); g.lineTo(xs + 7, ye - 16); g.stroke();
  g.strokeStyle = '#9a9a9a'; g.lineWidth = 1.5;
  g.beginPath(); g.moveTo(xs + 2, ye - 22); g.lineTo(xs + 8, ye - 14); g.lineTo(xs + 14, ye - 22); g.stroke();

  // entry marker
  g.beginPath(); g.arc(xs, ye, 6.5, 0, Math.PI * 2);
  g.fillStyle = '#000'; g.fill();
  g.strokeStyle = '#00ff44'; g.lineWidth = 3.5; g.stroke();

  g.textBaseline = 'middle'; g.textAlign = 'left';
  g.font = '20px "Liberation Sans", Arial, sans-serif';
  g.fillStyle = '#00ff44'; g.fillText('print', xs + 30, ye - 52);
  g.font = '19px "Liberation Sans", Arial, sans-serif';
  g.fillStyle = '#7a7a7a'; g.fillText('exit win', xs + 28, ye - 39);

  g.font = '20px "Liberation Sans", Arial, sans-serif';
  const lx = a.right + 14;
  g.fillStyle = '#00ff44'; g.fillText('high  ' + nf.format(target), lx, yt);
  g.fillStyle = '#c8c8c8'; g.fillText('entry  ' + nf.format(entry), lx, ye);
  g.fillStyle = '#ff1f44'; g.fillText('low  ' + stop.toFixed(2), lx, ys);
}

const baseOpts = (pad) => ({
  responsive: false, animation: false, devicePixelRatio: 1, events: [],
  layout: { padding: { left: 0, right: 381, top: pad, bottom: 0 } },
  plugins: { legend: { display: false }, tooltip: { enabled: false } }
});

// ---- price panel ----
const upCol = '#d4d4d4', dnCol = '#5a5a5a', sigCol = '#00ff44';
const candleCol = k => hiIdx.includes(k) ? 'rgba(0,0,0,0)' : (isUp(k) ? upCol : dnCol);

new Chart(document.getElementById('main'), {
  type: 'bar',
  data: {
    datasets: [
      { type: 'line', label: '20W EMA', data: avgWeek.map((w, i) => ({ x: weekX(w), y: ema20[i] * 1000 })),
        borderColor: '#d8d8d8', borderWidth: 2.5, pointRadius: 0, cubicInterpolationMode: 'monotone', order: 0 },
      { type: 'line', label: '50W SMA', data: avgWeek.map((w, i) => ({ x: weekX(w), y: sma50[i] * 1000 })),
        borderColor: '#6f6f6f', borderWidth: 2.5, borderDash: [9, 6], pointRadius: 0, cubicInterpolationMode: 'monotone', order: 0 },
      { label: 'signal body', data: hiIdx.map(k => ({ x: weekX(k), y: [open[k] * 1000, close[k] * 1000] })),
        backgroundColor: sigCol, barThickness: 7, grouped: false, order: 1 },
      { label: 'signal wick', data: hiIdx.map(k => ({ x: weekX(k), y: [low[k] * 1000, high[k] * 1000] })),
        backgroundColor: sigCol, barThickness: 3, grouped: false, order: 1 },
      { label: 'body', data: K.map(k => ({ x: weekX(k), y: [open[k] * 1000, close[k] * 1000] })),
        backgroundColor: K.map(candleCol), barThickness: 4.5, minBarLength: 1.5, grouped: false, order: 2 },
      { label: 'wick', data: K.map(k => ({ x: weekX(k), y: [low[k] * 1000, high[k] * 1000] })),
        backgroundColor: K.map(candleCol), barThickness: 1.6, grouped: false, order: 3 }
    ]
  },
  options: Object.assign(baseOpts(35), {
    scales: { x: xScale(false, 26), y: yScale(0, 136150, 5000, 20000, fmtPrice) }
  }),
  plugins: [panelPlugin(null, tradeMarks)]
});

// ---- MACD panel ----
new Chart(document.getElementById('macd'), {
  type: 'bar',
  data: {
    datasets: [
      { type: 'line', label: 'MACD', data: macdWeek.map((w, i) => ({ x: weekX(w), y: macdLine[i] * 1000 })),
        borderColor: '#ececec', borderWidth: 2.2, pointRadius: 0, cubicInterpolationMode: 'monotone', order: 0 },
      { type: 'line', label: 'signal', data: signalWeek.map((w, i) => ({ x: weekX(w), y: signalLine[i] * 1000 })),
        borderColor: '#8a8a8a', borderWidth: 2.2, pointRadius: 0, cubicInterpolationMode: 'monotone', order: 1 },
      { label: 'hist', data: K.map(k => ({ x: weekX(k), y: macdHist[k] * 1000 })),
        backgroundColor: K.map(k => macdHist[k] >= 0 ? '#7d7d7d' : '#4e4e4e'), barThickness: 4.5, grouped: false, order: 2 }
    ]
  },
  options: Object.assign(baseOpts(24), {
    scales: { x: xScale(false, 26), y: yScale(-10900, 11400, 1250, 5000, fmtPrice, 'MACD', 45) }
  }),
  plugins: [panelPlugin((c, g) => {
    const y0 = c.scales.y.getPixelForValue(0);
    hline(g, y0, c.chartArea.left, c.chartArea.right, '#4a4a4a', 2);
  }, null)]
});

// ---- volume panel ----
new Chart(document.getElementById('vol'), {
  type: 'bar',
  data: {
    datasets: [
      { type: 'line', label: 'vol avg', data: avgWeek.map((w, i) => ({ x: weekX(w), y: volAvg[i] })),
        borderColor: '#cfcfcf', borderWidth: 2, pointRadius: 0, cubicInterpolationMode: 'monotone', order: 0 },
      { label: 'vol', data: K.map(k => ({ x: weekX(k), y: volume[k] })),
        backgroundColor: K.map(k => isUp(k) ? '#8c8c8c' : '#474747'), barThickness: 5, grouped: false, order: 1 }
    ]
  },
  options: Object.assign(baseOpts(24), {
    scales: { x: xScale(true, 124), y: yScale(0, 675, 50, 200, fmtVol, 'vol', 27) }
  }),
  plugins: [panelPlugin(null, null)]
});
</script>
</body>
</html>
